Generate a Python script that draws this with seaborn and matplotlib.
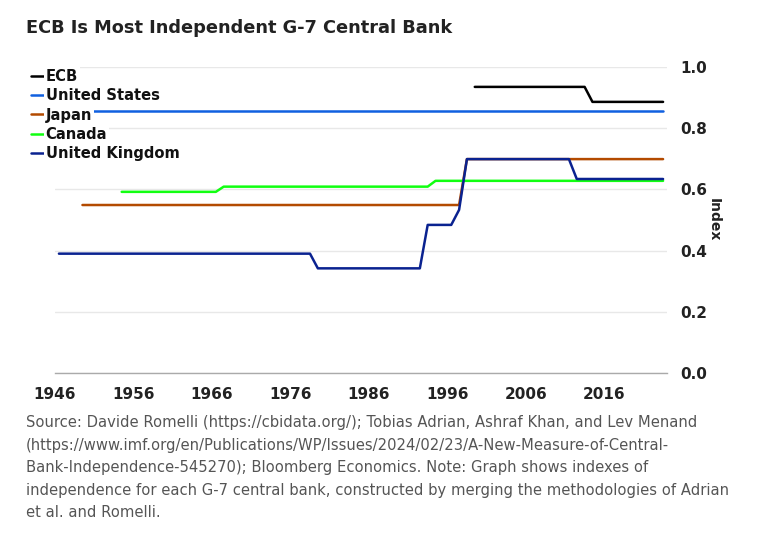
import numpy as np
import pandas as pd
import matplotlib
matplotlib.use("Agg")
import matplotlib.pyplot as plt
from matplotlib.ticker import MultipleLocator, FixedLocator
import seaborn as sns

# index values per bank, as runs of (value, first year, last year)
ecb_runs = [(0.935, 1999, 2013), (0.886, 2014, 2023)]
us_runs = [(0.857, 1946, 2023)]
japan_runs = [(0.549, 1949, 1997), (0.699, 1998, 2023)]
canada_runs = [(0.592, 1954, 1966), (0.609, 1967, 1993), (0.628, 1994, 2023)]
uk_runs = [(0.390, 1946, 1978), (0.342, 1979, 1992), (0.484, 1993, 1996),
           (0.533, 1997, 1997), (0.699, 1998, 2011), (0.634, 2012, 2023)]

banks = ["ECB", "United States", "Japan", "Canada", "United Kingdom"]
colors = ["#000000", "#1060e0", "#b34a00", "#11ff11", "#0a2290"]
x_labels = ["1946", "1956", "1966", "1976", "1986", "1996", "2006", "2016"]
y_labels = ["0.0", "0.2", "0.4", "0.6", "0.8", "1.0"]

title = "ECB Is Most Independent G-7 Central Bank"
footer = ("Source: Davide Romelli (https://cbidata.org/); Tobias Adrian, Ashraf Khan, and Lev Menand\n"
          "(https://www.imf.org/en/Publications/WP/Issues/2024/02/23/A-New-Measure-of-Central-\n"
          "Bank-Independence-545270); Bloomberg Economics. Note: Graph shows indexes of\n"
          "independence for each G-7 central bank, constructed by merging the methodologies of Adrian\n"
          "et al. and Romelli.")

rows = []
for bank, runs in zip(banks, [ecb_runs, us_runs, japan_runs, canada_runs, uk_runs]):
    for val, y0, y1 in runs:
        for yr in range(y0, y1 + 1):
            # annual values plotted at mid-year
            rows.append({"bank": bank, "year": yr + 0.5, "index": val})
df = pd.DataFrame(rows)

sns.set_style("white")
plt.rcParams['font.family'] = ['DejaVu Sans']

fig = plt.figure(figsize=(7.58, 5.38), dpi=100)
ax = fig.add_axes([55/758, 1-373/538, (667-55)/758, (373-67)/538])

sns.lineplot(ax=ax, data=df, x="year", y="index", hue="bank", hue_order=banks,
             palette=dict(zip(banks, colors)), linewidth=1.8, estimator=None)

ax.set_xlim(1946, 2024)
ax.set_ylim(0, 1.0)
ax.yaxis.set_major_locator(FixedLocator([float(v) for v in y_labels]))
ax.set_yticklabels(y_labels)
ax.yaxis.tick_right()
ax.yaxis.set_label_position("right")
ax.tick_params(axis="y", length=0, pad=9.5, labelsize=11, labelcolor="#222222")
for lab in ax.get_yticklabels():
    lab.set_fontweight("bold")
ax.grid(axis="y", color="#e8e8e8", linewidth=1)
ax.set_axisbelow(True)

ax.xaxis.set_major_locator(FixedLocator([int(v) for v in x_labels]))
ax.set_xticklabels(x_labels)
ax.xaxis.set_minor_locator(MultipleLocator(5, offset=1))
ax.tick_params(axis="x", which="both", direction="out", length=4, width=1,
               color="#aaaaaa", pad=6, labelsize=11, labelcolor="#222222")
for lab in ax.get_xticklabels():
    lab.set_fontweight("bold")

for s in ["top", "left", "right"]:
    ax.spines[s].set_visible(False)
ax.spines["bottom"].set_color("#aaaaaa")
ax.spines["bottom"].set_linewidth(1)

ax.set_xlabel("")
ax.set_ylabel("Index", rotation=270, fontsize=10, fontweight="bold", labelpad=10, color="#222222")

handles, labels = ax.get_legend_handles_labels()
ax.get_legend().remove()
leg = ax.legend(handles, labels, loc="upper left", bbox_to_anchor=(31/758, 1-69/538),
                bbox_transform=fig.transFigure, frameon=False, fontsize=10.6,
                handlelength=0.95, handletextpad=0.05, labelspacing=0.29, borderpad=0,
                borderaxespad=0)
for t in leg.get_texts():
    t.set_fontweight("bold")
    t.set_color("#111111")
    t.set_bbox(dict(facecolor="white", edgecolor="none", pad=1.5))

fig.text(26/758, 1-28/538, title, fontsize=12.8, fontweight="bold", color="#222222",
         ha="left", va="center")
fig.text(26/758, 1-415/538, footer, fontsize=10.6, color="#555555", ha="left", va="top",
         linespacing=1.63)

fig.savefig("out.png", dpi=100)
